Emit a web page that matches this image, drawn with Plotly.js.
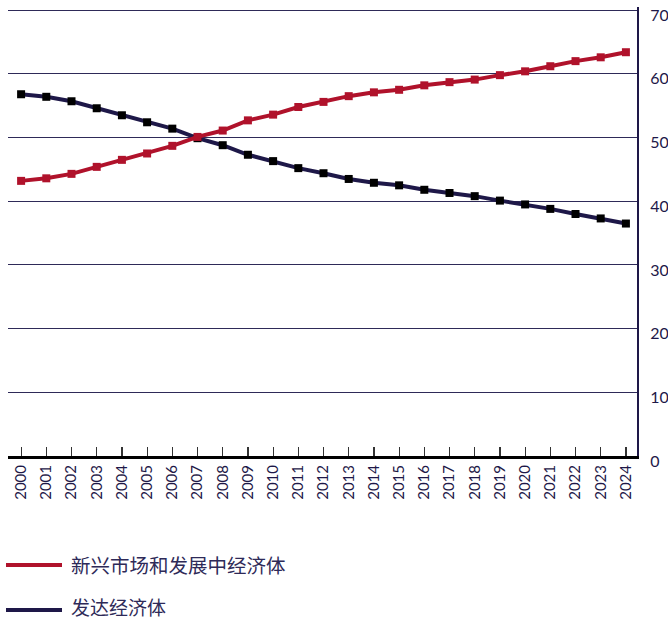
<!DOCTYPE html>
<html><head><meta charset="utf-8">
<script src="https://cdn.plot.ly/plotly-3.0.1.min.js"></script>
<style>html,body{margin:0;padding:0;background:#fff;}#chart{width:668px;height:621px;}</style>
</head><body><div id="chart"></div>
<script>
const years = [2000,2001,2002,2003,2004,2005,2006,2007,2008,2009,2010,2011,2012,2013,2014,2015,2016,2017,2018,2019,2020,2021,2022,2023,2024];
const emerging = [43.2,43.6,44.3,45.4,46.5,47.5,48.7,50.1,51.1,52.7,53.6,54.8,55.6,56.5,57.1,57.5,58.2,58.7,59.1,59.8,60.4,61.2,62.0,62.6,63.4];
const advanced = [56.8,56.4,55.7,54.6,53.5,52.4,51.4,49.9,48.8,47.3,46.3,45.2,44.4,43.5,42.9,42.5,41.8,41.3,40.8,40.1,39.5,38.8,38.0,37.3,36.5];
const seriesNames = ['新兴市场和发展中经济体','发达经济体'];
const yTicks = [0,10,20,30,40,50,60,70];

const red = '#b0122b', navy = '#1e1848';
const traces = [
  {x: years, y: advanced, name: seriesNames[1], mode: 'lines+markers', line: {color: navy, width: 4}, marker: {symbol: 'square', size: 8, color: '#000000'}},
  {x: years, y: emerging, name: seriesNames[0], mode: 'lines+markers', line: {color: red, width: 4}, marker: {symbol: 'square', size: 8, color: red}}
];
const font = 'Lato, "Noto Sans CJK SC", sans-serif';
const H = 449; // plot height in px
const layout = {
  width: 668, height: 621,
  margin: {l: 8, r: 31, t: 7, b: 165},
  paper_bgcolor: '#fff', plot_bgcolor: '#fff',
  showlegend: false,
  font: {family: font, color: navy},
  xaxis: {range: [1999.48, 2024.44], tickvals: years, ticktext: years.map(String), tickangle: -90,
    ticks: 'inside', ticklen: 9, tickwidth: 1.2, tickcolor: '#333', showgrid: false, zeroline: false,
    showline: true, linecolor: '#000', linewidth: 3, tickfont: {size: 15, color: navy, family: font}, fixedrange: true},
  yaxis: {range: [0, 70.5], side: 'right', tickvals: yTicks, showgrid: true, gridcolor: '#2e2a58', gridwidth: 1,
    zeroline: false, showline: true, linecolor: navy, linewidth: 2, ticks: '', ticklabelstandoff: 8, ticklabelshift: 5,
    tickfont: {size: 16, color: navy, family: font}, fixedrange: true},
  shapes: [
    {type: 'line', xref: 'paper', yref: 'paper', x0: -2/629, x1: 54/629, y0: -(565-456)/H, y1: -(565-456)/H, line: {color: red, width: 4}},
    {type: 'line', xref: 'paper', yref: 'paper', x0: -2/629, x1: 54/629, y0: -(610-456)/H, y1: -(610-456)/H, line: {color: navy, width: 4}}
  ],
  annotations: [
    {xref: 'paper', yref: 'paper', x: 61/629, y: -(564-456)/H, xanchor: 'left', yanchor: 'middle', showarrow: false, text: seriesNames[0], font: {size: 19.5, color: '#2e2a58', family: '"Noto Sans CJK SC", sans-serif'}},
    {xref: 'paper', yref: 'paper', x: 61/629, y: -(606-456)/H, xanchor: 'left', yanchor: 'middle', showarrow: false, text: seriesNames[1], font: {size: 19, color: '#2e2a58', family: '"Noto Sans CJK SC", sans-serif'}}
  ]
};
Plotly.newPlot('chart', traces, layout, {displayModeBar: false, staticPlot: true});
</script></body></html>
